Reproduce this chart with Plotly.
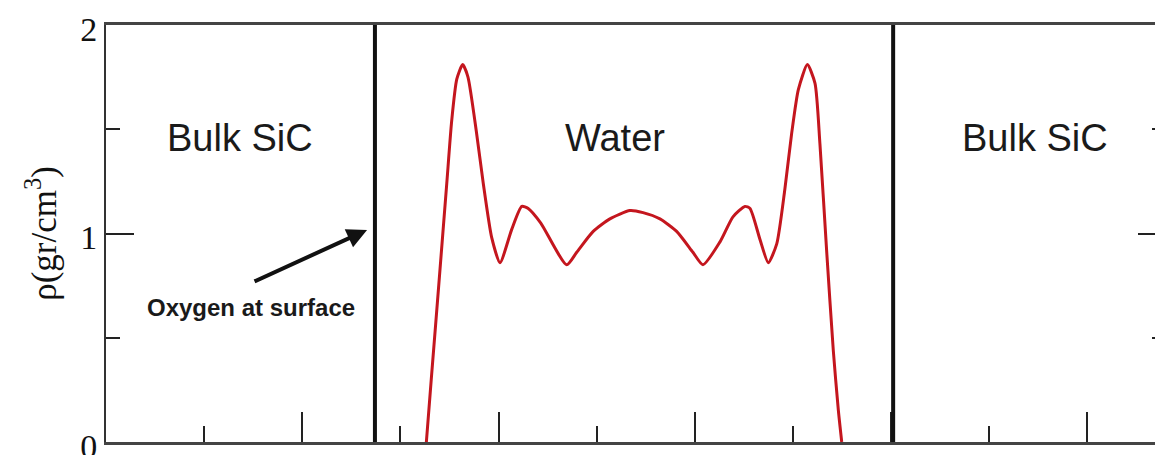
import plotly.graph_objects as go

# Water oxygen density profile across the SiC/water/SiC slab
z_angstrom = [16.32, 16.57, 16.95, 17.36, 17.61, 17.87, 18.17, 18.44, 18.88, 19.22,
              19.65, 20.07, 20.67, 21.18, 21.51, 22.15, 23.47, 23.98, 24.82, 25.67,
              26.69, 27.36, 28.22, 29.07, 29.90, 30.41, 31.28, 31.94, 32.55, 32.81,
              33.32, 33.74, 34.17, 34.58, 34.93, 35.27, 35.73, 36.12, 36.37, 36.71,
              37.05, 37.31, 37.48]
density = [0.0, 0.30, 0.75, 1.24, 1.54, 1.74, 1.81, 1.75, 1.48, 1.24,
           0.98, 0.86, 1.02, 1.13, 1.12, 1.05, 0.85, 0.91, 1.01, 1.07,
           1.11, 1.10, 1.07, 1.01, 0.91, 0.85, 0.96, 1.08, 1.13, 1.12,
           0.97, 0.86, 0.95, 1.21, 1.48, 1.69, 1.81, 1.72, 1.43, 0.92,
           0.44, 0.15, 0.0]

interfaces = [13.7, 40.1]
region_labels = ["Bulk SiC", "Water", "Bulk SiC"]
region_x = [6.83, 25.93, 47.33]
region_y = [1.46, 1.46, 1.46]

y_tickvals = [0, 1, 2]
y_ticktext = ["0", "1", "2"]
x_tickvals = [0, 10, 20, 30, 40, 50]

arrow_text = "Oxygen at surface"
arrow_tail = (7.49, 0.767)
arrow_head = (13.30, 1.017)

fig = go.Figure()
fig.add_trace(go.Scatter(
    x=z_angstrom, y=density, mode="lines",
    line=dict(color="#c4161e", width=3, shape="spline", smoothing=0.6),
    showlegend=False, hoverinfo="skip"))

for xi in interfaces:
    fig.add_shape(type="line", x0=xi, x1=xi, y0=0, y1=1, xref="x", yref="paper",
                  line=dict(color="#111111", width=4), layer="above")

for txt, xx, yy in zip(region_labels, region_x, region_y):
    fig.add_annotation(x=xx, y=yy, text=txt, showarrow=False,
                       font=dict(family="Liberation Sans, Arial, sans-serif", size=38, color="#1a1a1a"))

fig.add_annotation(x=arrow_tail[0] - 0.1, y=0.645, text="<b>" + arrow_text + "</b>", showarrow=False,
                   font=dict(family="Liberation Sans, Arial, sans-serif", size=24, color="#1a1a1a"))
fig.add_annotation(x=arrow_head[0], y=arrow_head[1], ax=arrow_tail[0], ay=arrow_tail[1],
                   xref="x", yref="y", axref="x", ayref="y", text="",
                   showarrow=True, arrowhead=2, arrowsize=1.0, arrowwidth=4, arrowcolor="#111111")

serif = "Liberation Serif, Times New Roman, serif"
fig.update_xaxes(range=[0, 54], tickvals=x_tickvals, ticks="inside", ticklen=30, tickwidth=2,
                 tickcolor="#222222", showticklabels=False, showgrid=False, zeroline=False,
                 showline=True, linecolor="#444444", linewidth=3, mirror=True, automargin=False,
                 minor=dict(dtick=5, tick0=0, ticks="inside", ticklen=16, tickwidth=2, tickcolor="#222222"))
fig.update_yaxes(range=[0, 2], tickvals=y_tickvals, ticktext=y_ticktext, ticks="inside", ticklen=28,
                 tickwidth=2, tickcolor="#222222", showgrid=False, zeroline=False,
                 showline=True, linecolor="#333333", linewidth=2, mirror="ticks", automargin=False,
                 tickfont=dict(family=serif, size=34, color="#111111"),
                 ticklabelshift=4, ticklabeloverflow="allow",
                 minor=dict(dtick=0.5, tick0=0, ticks="inside", ticklen=14, tickwidth=2, tickcolor="#222222"),
                 title=dict(text="ρ(gr/cm<sup>3</sup>)", font=dict(family=serif, size=35, color="#111111"),
                            standoff=13))

fig.update_layout(width=1166, height=455, autosize=False,
                  margin=dict(l=106, r=0, t=25, b=13),
                  paper_bgcolor="white", plot_bgcolor="white")

fig.write_html("out.html",
               post_script="document.body.style.overflow='hidden';document.documentElement.style.overflow='hidden';")
